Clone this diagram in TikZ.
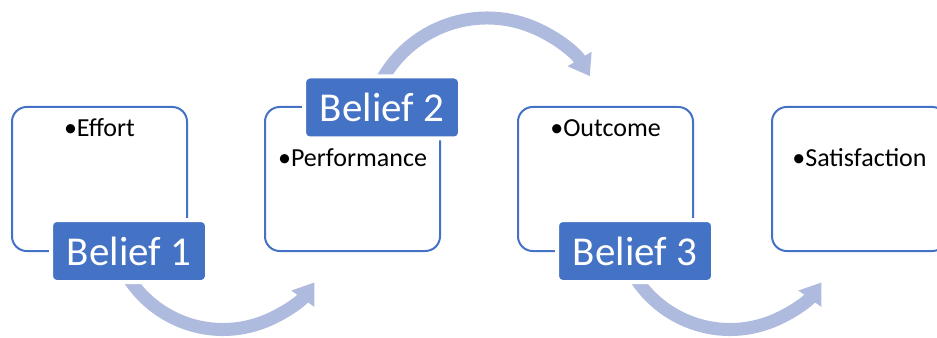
\documentclass[tikz,border=0pt]{standalone}
\usepackage{fontspec}
\setmainfont{Carlito}
\usetikzlibrary{arrows.meta}

\definecolor{beliefBlue}{HTML}{4472C4}
\definecolor{flowBlue}{HTML}{AEBBDF}

\begin{document}
\begin{tikzpicture}
[x=0.75pt,y=-0.75pt,
  boxDecorate/.style={shape=rectangle,draw=beliefBlue,line width=1.5pt,rounded corners=11pt,
    minimum width=131.25pt,minimum height=108pt,inner sep=0pt},%
  itemDecorate/.style={inner sep=0pt,anchor=base,font=\fontsize{19.5}{23}\selectfont},%
  labelDecorate/.style={shape=rectangle,fill=beliefBlue,draw=white,line width=3pt,rounded corners=4pt,
    minimum width=117pt,minimum height=46.5pt,inner sep=0pt,text=white,
    font=\fontsize{30.75}{36}\selectfont},%
  flowDecorate/.style={draw=flowBlue,line width=9.75pt,-{Triangle[width=20pt,length=15pt]}}]
\useasboundingbox (0,0) rectangle (937,338);
%% boxes and their items
\foreach \nodename/\x/\ty/\txt in {1/99.5/137/Effort, 2/352.5/167/Performance, 3/605.5/137/Outcome, 4/859.5/167/Satisfaction}
{
  \node (box\nodename) at (\x,179) [boxDecorate] {};
  \node (item\nodename) at (\x,\ty) [itemDecorate] {•\txt};
}
%% curved arrows
\coordinate (bend1) at (223,217.2);
\coordinate (bend2) at (487,138);
\coordinate (bend3) at (730,217.2);
\draw[flowDecorate] ([shift={(160:112.3)}]bend1) arc[start angle=160,end angle=35.5,radius=112.3];
\draw[flowDecorate] ([shift={(200:120)}]bend2) arc[start angle=200,end angle=329,radius=120];
\draw[flowDecorate] ([shift={(160:112.3)}]bend3) arc[start angle=160,end angle=35.5,radius=112.3];
%% belief labels
\foreach \nodename/\x/\y in {1/129/251, 2/382/107.5, 3/635/251}
{
  \node (belief\nodename) at (\x,\y) [labelDecorate] {Belief \nodename};
}
\end{tikzpicture}
\end{document}
